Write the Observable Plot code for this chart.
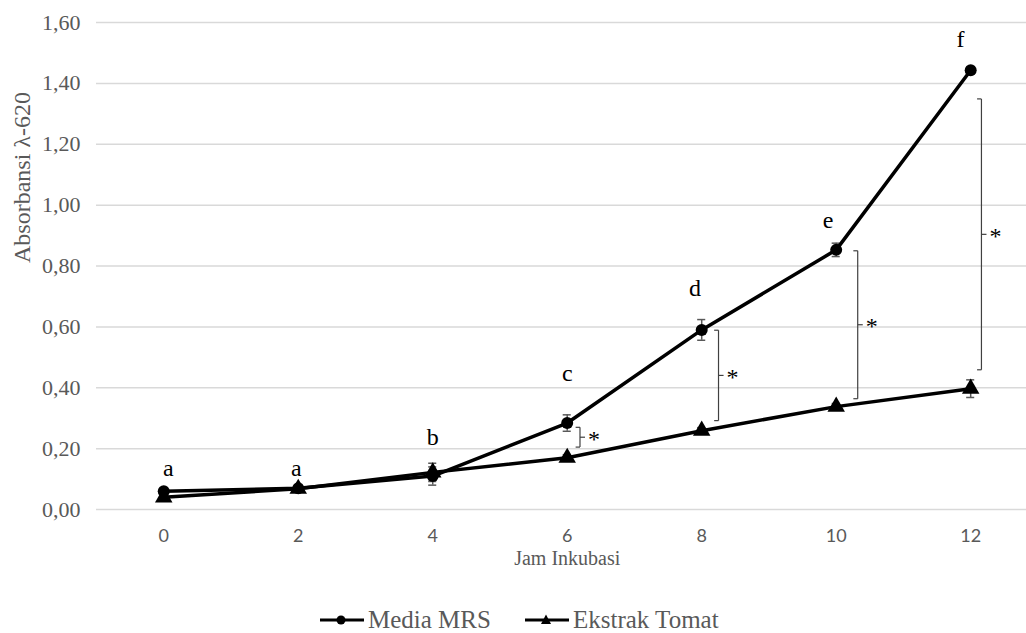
<!DOCTYPE html>
<html>
<head>
<meta charset="utf-8">
<script src="https://cdn.jsdelivr.net/npm/d3@7"></script>
<script src="https://cdn.jsdelivr.net/npm/@observablehq/plot@0.6"></script>
<style>
  html, body { margin: 0; padding: 0; background: #fff; }
  #wrap { position: relative; width: 1026px; height: 633px; overflow: hidden; }
  #legend { position: absolute; left: 320px; top: 606px; height: 27px; line-height: 27px; display: flex; align-items: center;
            font-family: "Liberation Serif", "Times New Roman", serif; font-size: 25px; color: #595959; }
  #legend .item { display: flex; align-items: center; }
  #legend svg { display: block; margin-right: 4px; }
</style>
</head>
<body>
<div id="wrap">
  <div id="chart"></div>
  <div id="legend"></div>
</div>
<script>
// ---- data ----
const hours = [0, 2, 4, 6, 8, 10, 12];
const mediaMRS = [0.06, 0.07, 0.11, 0.284, 0.59, 0.853, 1.443];
const mediaMRSErr = [0.005, 0.006, 0.03, 0.027, 0.034, 0.022, 0.01];
const ekstrakTomat = [0.04, 0.068, 0.122, 0.17, 0.259, 0.338, 0.397];
const ekstrakTomatErr = [0.005, 0.006, 0.03, 0.01, 0.01, 0.01, 0.029];
const letters = ["a", "a", "b", "c", "d", "e", "f"];
const letterHeights = [0.134, 0.134, 0.236, 0.446, 0.728, 0.951, 1.545];
const letterShift = [0.07, -0.03, 0, 0, -0.1, -0.12, -0.15];
const bracketHours = [6, 8, 10, 12];
const bracketX = [6.19, 8.25, 10.32, 12.16];
const bracketTop = [0.27, 0.589, 0.85, 1.349];
const bracketBottom = [0.205, 0.292, 0.364, 0.459];
const yTicks = [0, 0.2, 0.4, 0.6, 0.8, 1.0, 1.2, 1.4, 1.6];
const seriesNames = ["Media MRS", "Ekstrak Tomat"];

// ---- tables ----
const mrs = hours.map((h, i) => ({x: h, y: mediaMRS[i], e: mediaMRSErr[i]}));
const tom = hours.map((h, i) => ({x: h, y: ekstrakTomat[i], e: ekstrakTomatErr[i]}));
const both = mrs.concat(tom);
const labels = hours.map((h, i) => ({x: h + letterShift[i], y: letterHeights[i], t: letters[i]}));
const arm = 0.065;
const segs = [];
const stars = [];
bracketHours.forEach((h, i) => {
  const bx = bracketX[i], t = bracketTop[i], b = bracketBottom[i], m = (t + b) / 2;
  segs.push({x1: bx, y1: t, x2: bx, y2: b});
  segs.push({x1: bx - arm, y1: t, x2: bx, y2: t});
  segs.push({x1: bx - arm, y1: b, x2: bx, y2: b});
  segs.push({x1: bx, y1: m, x2: bx + arm + 0.01, y2: m});
  stars.push({x: bx, y: m});
});
const cap = 0.06;
const fmt = d => d.toFixed(2).replace(".", ",");
const serif = "'Liberation Serif', 'Times New Roman', serif";

const chart = Plot.plot({
  width: 1026,
  height: 600,
  marginTop: 22,
  marginBottom: 91,
  marginLeft: 96,
  marginRight: 0,
  style: {background: "#fff", color: "#595959", overflow: "visible"},
  x: {domain: [-1, 12.83], axis: null},
  y: {domain: [0, 1.6], axis: null},
  marks: [
    Plot.ruleY(yTicks, {stroke: "#d9d9d9", strokeWidth: 1.5}),
    Plot.axisY(yTicks, {tickSize: 0, tickPadding: 16, tickFormat: fmt, fontSize: 22,
      fontFamily: serif, fill: "#595959", label: null}),
    Plot.axisX(hours, {tickSize: 0, tickPadding: 20, fontSize: 18, fontFamily: "Lato, 'Open Sans', sans-serif",
      fill: "#595959", label: null}),
    Plot.text(["Absorbansi λ-620"], {frameAnchor: "left", dx: -74, dy: -3, rotate: -90, fontSize: 24,
      fontFamily: serif, fill: "#595959", lineAnchor: "middle"}),
    Plot.text(["Jam Inkubasi"], {x: [6], frameAnchor: "bottom", lineAnchor: "middle", dy: 49, fontSize: 20,
      fontFamily: serif, fill: "#595959"}),
    // error bars
    Plot.ruleX(both, {x: "x", y1: d => d.y - d.e, y2: d => d.y + d.e, stroke: "#595959", strokeWidth: 1.5}),
    Plot.ruleY(both, {y: d => d.y + d.e, x1: d => d.x - cap, x2: d => d.x + cap, stroke: "#595959", strokeWidth: 1.5}),
    Plot.ruleY(both, {y: d => d.y - d.e, x1: d => d.x - cap, x2: d => d.x + cap, stroke: "#595959", strokeWidth: 1.5}),
    // lines
    Plot.line(tom, {x: "x", y: "y", stroke: "#000", strokeWidth: 3.5}),
    Plot.line(mrs, {x: "x", y: "y", stroke: "#000", strokeWidth: 3.5}),
    Plot.dot(tom, {x: "x", y: "y", symbol: "triangle", r: 6.5, fill: "#000", stroke: "none"}),
    Plot.dot(mrs, {x: "x", y: "y", symbol: "circle", r: 6, fill: "#000", stroke: "none"}),
    // brackets
    Plot.link(segs, {x1: "x1", y1: "y1", x2: "x2", y2: "y2", stroke: "#404040", strokeWidth: 1.2}),
    Plot.text(stars, {x: "x", y: "y", text: () => "*", dx: 14, dy: 2, fontSize: 24, fontFamily: serif, fill: "#000"}),
    // letters
    Plot.text(labels, {x: "x", y: "y", text: "t", fontSize: 24, fontFamily: serif, fill: "#000"})
  ]
});
document.getElementById("chart").appendChild(chart);

// legend
const legend = document.getElementById("legend");
seriesNames.forEach((name, i) => {
  const item = document.createElement("div");
  item.className = "item";
  if (i > 0) item.style.marginLeft = "34px";
  const marker = i === 0
    ? '<circle cx="21" cy="8" r="4.5" fill="#000"/>'
    : '<path d="M21,2.5 L26,12 L16,12 Z" fill="#000"/>';
  item.innerHTML = '<svg width="44" height="16"><line x1="0" y1="8" x2="44" y2="8" stroke="#000" stroke-width="3"/>' +
    marker + '</svg><span>' + name + '</span>';
  legend.appendChild(item);
});
</script>
</body>
</html>
